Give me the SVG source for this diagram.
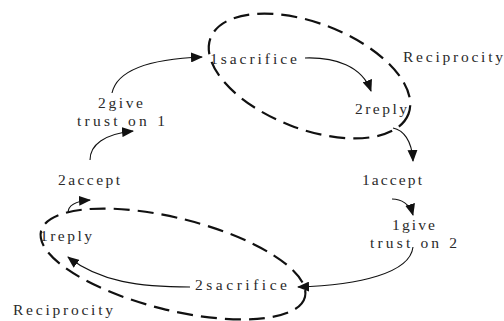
<svg xmlns="http://www.w3.org/2000/svg" width="504" height="321" viewBox="0 0 504 321">
  <style>
    .lbl { font-family: "Liberation Serif", "DejaVu Serif", serif; font-size: 15.5px; fill: #2a2a2a; }
    .loop { fill: none; stroke: #111; stroke-width: 2.2; stroke-dasharray: 16 8; }
    .edge { fill: none; stroke: #111; stroke-width: 1.1; marker-end: url(#arrow); }
  </style>
  <defs>
    <marker id="arrow" viewBox="0 0 12 10" refX="11" refY="5" markerWidth="12" markerHeight="10" markerUnits="userSpaceOnUse" orient="auto">
      <path d="M0,0 L12,5 L0,10 Z" fill="#111"/>
    </marker>
  </defs>

  <rect width="504" height="321" fill="#fff"/>

  <!-- reciprocity loops -->
  <g id="loop-top">
    <ellipse class="loop" cx="309.5" cy="76" rx="106" ry="53" transform="rotate(21 309.5 76)"/>
    <text class="lbl" x="403" y="62" textLength="100" lengthAdjust="spacing">Reciprocity</text>
  </g>
  <g id="loop-bottom">
    <ellipse class="loop" cx="173" cy="264" rx="136" ry="46" transform="rotate(14 173 264)"/>
    <text class="lbl" x="13" y="315" textLength="100" lengthAdjust="spacing">Reciprocity</text>
  </g>

  <!-- nodes -->
  <g id="n-1sacrifice"><text class="lbl" x="210" y="64" textLength="87" lengthAdjust="spacing">1sacrifice</text></g>
  <g id="n-2reply"><text class="lbl" x="355" y="114" textLength="52" lengthAdjust="spacing">2reply</text></g>
  <g id="n-1accept"><text class="lbl" x="362" y="185" textLength="60" lengthAdjust="spacing">1accept</text></g>
  <g id="n-1give">
    <text class="lbl" x="392" y="230" textLength="43" lengthAdjust="spacing">1give</text>
    <text class="lbl" x="370" y="248" textLength="87" lengthAdjust="spacing">trust on 2</text>
  </g>
  <g id="n-2sacrifice"><text class="lbl" x="195" y="290" textLength="92" lengthAdjust="spacing">2sacrifice</text></g>
  <g id="n-1reply"><text class="lbl" x="40" y="241" textLength="52" lengthAdjust="spacing">1reply</text></g>
  <g id="n-2accept"><text class="lbl" x="58" y="185" textLength="62" lengthAdjust="spacing">2accept</text></g>
  <g id="n-2give">
    <text class="lbl" x="98" y="108" textLength="45" lengthAdjust="spacing">2give</text>
    <text class="lbl" x="77" y="126" textLength="88" lengthAdjust="spacing">trust on 1</text>
  </g>

  <!-- connectors -->
  <g id="edges">
    <path class="edge" d="M112,93 C117,70 150,59 202,57"/>
    <path class="edge" d="M90,160 C90,145 104,134 133,131"/>
    <path class="edge" d="M305,58 C335,57 362,66 371,91"/>
    <path class="edge" d="M393,128 C403,130 412,140 413,161"/>
    <path class="edge" d="M392,199 C401,199 410,204 413,215"/>
    <path class="edge" d="M413,247 C410,273 360,285 298,287"/>
    <path class="edge" d="M190,287 C140,287 100,282 68,257"/>
    <path class="edge" d="M68,213 C68,205 76,201 90,200"/>
  </g>
</svg>
